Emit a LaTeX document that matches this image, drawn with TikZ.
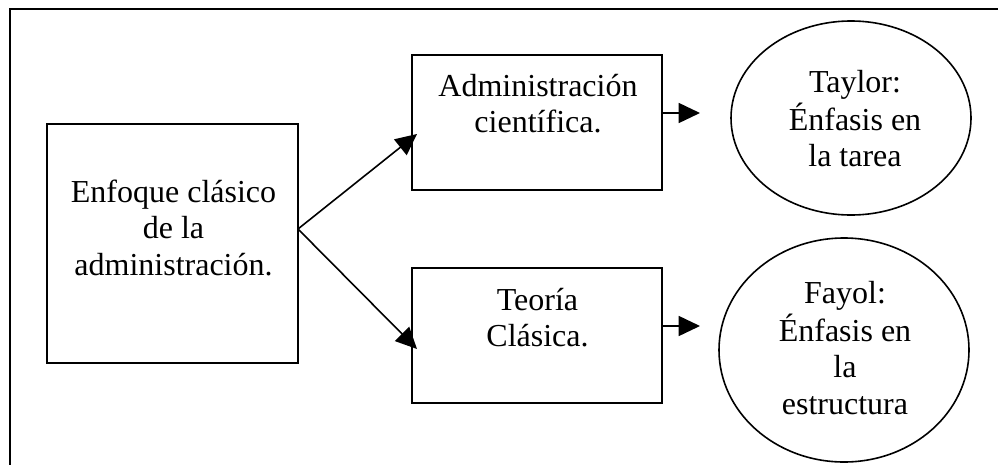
\documentclass[tikz,border=0pt]{standalone}
\usepackage{fontspec}
\setmainfont{Liberation Serif}
\usetikzlibrary{arrows.meta,shapes.geometric}

\tikzset{
  box/.style={draw, line width=1.5pt, rectangle, inner sep=0pt},
  oval/.style={draw, line width=1.2pt, ellipse, inner sep=0pt},
  txt/.style={inner sep=0pt, anchor=base,
    font=\fontsize{24}{27.3}\selectfont},
  arr/.style={line width=1.2pt, -{Triangle[length=16pt,width=15pt]}},
}
\newcommand{\lines}[1]{\begin{tabular}[t]{@{}c@{}}#1\end{tabular}}

\begin{document}
\begin{tikzpicture}[x=0.75pt, y=-0.75pt]
  \useasboundingbox (0,0) rectangle (998,464);
  \begin{scope}
    \clip (0,0) rectangle (998,464);
    % outer frame (runs past the right and bottom edges)
    \draw[line width=1.5pt] (10,9) rectangle (1100,600);
  \end{scope}

  % boxes
  \node[box, minimum width=188.25pt, minimum height=179.25pt] (enfoque) at (172.5,243.5) {};
  \node[box, minimum width=187.5pt, minimum height=101.25pt] (ciencia) at (537,122.5) {};
  \node[box, minimum width=187.5pt, minimum height=101.25pt] (clasica) at (537,335.5) {};

  % ellipses
  \node[oval, minimum width=180pt, minimum height=145.5pt] (taylor) at (851,118) {};
  \node[oval, minimum width=187.5pt, minimum height=168pt] (fayol) at (844,350) {};

  % labels
  \node[txt] (enfoquetxt) at (173.5,202.5) {\lines{Enfoque clásico\\de la\\administración.}};
  \node[txt] (cienciatxt) at (538,96) {\lines{Administración\\científica.}};
  \node[txt] (clasicatxt) at (537.5,310) {\lines{Teoría\\Clásica.}};
  \node[txt] (taylortxt) at (855,92) {\lines{Taylor:\\Énfasis en\\la tarea}};
  \node[txt] (fayoltxt) at (845,303) {\lines{Fayol:\\Énfasis en\\la\\estructura}};

  % connectors
  \coordinate (fork) at (298,229);
  \coordinate (cienciatip) at (417,134);
  \coordinate (clasicatip) at (417,349);
  \coordinate (taylortip) at (700,113);
  \coordinate (fayoltip) at (700,326);

  \draw[arr] (fork) -- (cienciatip);
  \draw[arr] (fork) -- (clasicatip);
  \draw[arr] (ciencia.east |- taylortip) -- (taylortip);
  \draw[arr] (clasica.east |- fayoltip) -- (fayoltip);
\end{tikzpicture}
\end{document}
